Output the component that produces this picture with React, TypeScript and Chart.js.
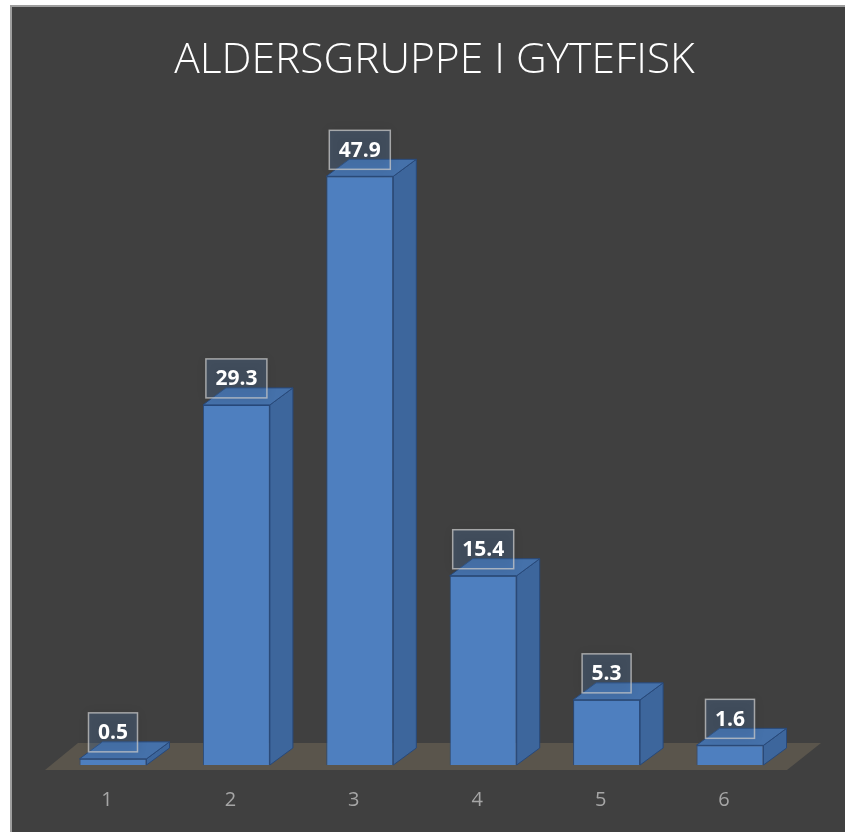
import React, { useEffect, useRef } from "react";
import { Chart, registerables } from "chart.js";

Chart.register(...registerables);

const TITLE = "ALDERSGRUPPE I GYTEFISK";
const categories = ["1", "2", "3", "4", "5", "6"];
const values = [0.5, 29.3, 47.9, 15.4, 5.3, 1.6];
const valueLabels = ["0.5", "29.3", "47.9", "15.4", "5.3", "1.6"];
const Y_MIN = 0;
const Y_MAX = 50;

const W = 835;
const H = 827;
const BG = "#404040";
const FRAME = "#9e9e9e";
const FLOOR = "#5a554c";
const FRONT = "#4e7fbf";
const SIDE = "#3d669c";
const TOP = "#4571aa";
const EDGE = "#28497a";
const TICK = "#a6a6a6";
const DX = 23;
const DY = -17;

const threeD = {
  id: "threeD",
  beforeDraw(chart: any) {
    const ctx = chart.ctx;
    ctx.save();
    ctx.fillStyle = BG;
    ctx.fillRect(0, 0, chart.width, chart.height);
    ctx.fillStyle = FRAME;
    ctx.fillRect(0, 0, chart.width, 2);
    ctx.fillRect(0, 0, 2, chart.height);
    ctx.font = "300 42.5px 'Open Sans'";
    ctx.fillStyle = "#ffffff";
    ctx.textAlign = "center";
    ctx.textBaseline = "alphabetic";
    ctx.fillText(TITLE, 424.5, 67.7);
    ctx.restore();
  },
  beforeDatasetsDraw(chart: any) {
    const ctx = chart.ctx;
    const { left, right, bottom } = chart.chartArea;
    const fx0 = left - 6.3;
    const fx1 = right - 4.7;
    const fy = bottom + 5;
    ctx.save();
    ctx.fillStyle = FLOOR;
    ctx.beginPath();
    ctx.moveTo(fx0, fy);
    ctx.lineTo(fx1, fy);
    ctx.lineTo(fx1 + 34, fy - 27);
    ctx.lineTo(fx0 + 33, fy - 27);
    ctx.closePath();
    ctx.fill();
    ctx.restore();
  },
  afterDatasetsDraw(chart: any) {
    const ctx = chart.ctx;
    const meta = chart.getDatasetMeta(0);
    ctx.save();
    ctx.lineWidth = 1;
    ctx.strokeStyle = EDGE;
    meta.data.forEach((bar: any) => {
      const { x, y, base, width } = bar.getProps(["x", "y", "base", "width"], true);
      const l = x - width / 2;
      const r = x + width / 2;
      ctx.fillStyle = SIDE;
      ctx.beginPath();
      ctx.moveTo(r, y);
      ctx.lineTo(r + DX, y + DY);
      ctx.lineTo(r + DX, base + DY);
      ctx.lineTo(r, base);
      ctx.closePath();
      ctx.fill();
      ctx.stroke();
      ctx.fillStyle = TOP;
      ctx.beginPath();
      ctx.moveTo(l, y);
      ctx.lineTo(l + DX, y + DY);
      ctx.lineTo(r + DX, y + DY);
      ctx.lineTo(r, y);
      ctx.closePath();
      ctx.fill();
      ctx.stroke();
    });
    ctx.font = "bold 21px 'Open Sans'";
    ctx.textAlign = "center";
    ctx.textBaseline = "middle";
    meta.data.forEach((bar: any, i: number) => {
      const { x, y } = bar.getProps(["x", "y"], true);
      const txt = valueLabels[i];
      const tw = ctx.measureText(txt).width;
      const bw = tw + 19;
      const bh = 39;
      const bx = x - bw / 2;
      const by = y - 7 - bh;
      ctx.save();
      ctx.shadowColor = "rgba(0,0,0,0.35)";
      ctx.shadowBlur = 10;
      ctx.fillStyle = "rgba(79,129,189,0.25)";
      ctx.fillRect(bx, by, bw, bh);
      ctx.restore();
      ctx.strokeStyle = "rgba(200,200,200,0.75)";
      ctx.lineWidth = 1.5;
      ctx.strokeRect(bx, by, bw, bh);
      ctx.fillStyle = "#ffffff";
      ctx.fillText(txt, x, by + bh / 2 + 1);
    });
    ctx.restore();
  },
};

export default function App() {
  const ref = useRef<HTMLCanvasElement | null>(null);
  useEffect(() => {
    if (!ref.current) return;
    const chart = new Chart(ref.current, {
      type: "bar",
      data: {
        labels: categories,
        datasets: [
          {
            data: values,
            backgroundColor: FRONT,
            borderColor: EDGE,
            borderWidth: 1,
            barPercentage: 0.543,
            categoryPercentage: 1,
          },
        ],
      },
      options: {
        responsive: false,
        animation: false,
        devicePixelRatio: 1,
        layout: { padding: { left: 41.3, right: 53.3, top: 145.5, bottom: 0 } },
        plugins: {
          legend: { display: false },
          title: { display: false },
          tooltip: { enabled: false },
        },
        scales: {
          x: {
            grid: { display: false, drawTicks: false },
            border: { display: false },
            ticks: {
              color: TICK,
              font: { family: "'Open Sans'", size: 20 },
              padding: 23,
              labelOffset: -6,
            },
            afterFit: (s: any) => {
              s.height = H - 760;
            },
          },
          y: { display: false, min: Y_MIN, max: Y_MAX },
        },
      },
      plugins: [threeD],
    });
    return () => chart.destroy();
  }, []);
  return (
    <canvas
      ref={ref}
      width={W}
      height={H}
      style={{ position: "absolute", left: 10, top: 5, width: W, height: H }}
    />
  );
}
